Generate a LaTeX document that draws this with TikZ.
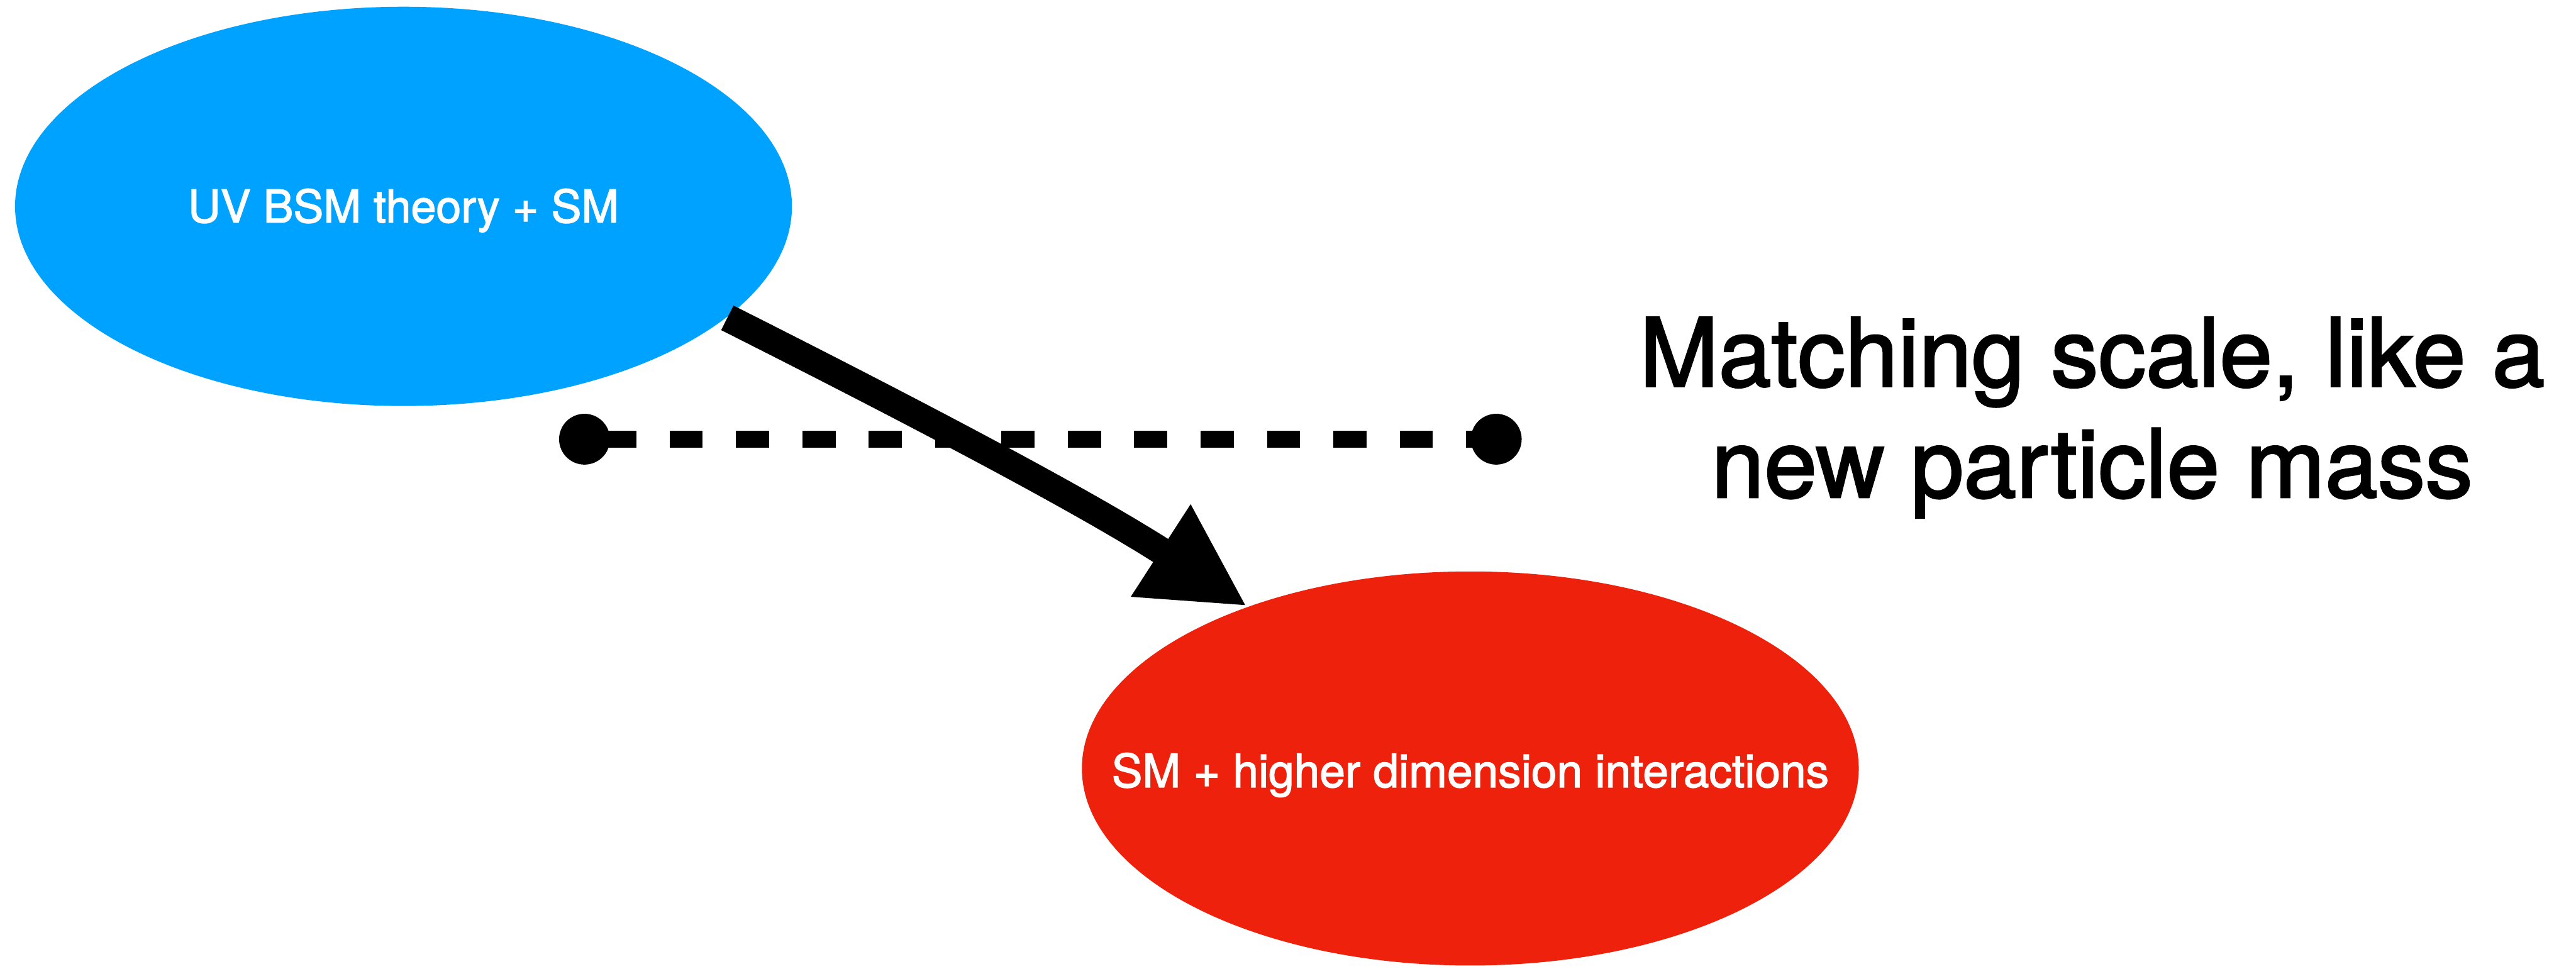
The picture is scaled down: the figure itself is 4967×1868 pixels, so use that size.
\documentclass[tikz,border=0pt]{standalone}
\usepackage{fontspec}
\setmainfont{TeX Gyre Heros}
\newfontfamily\heavyfont[FakeBold=2]{TeX Gyre Heros}
\usetikzlibrary{shapes.geometric,arrows.meta}
\definecolor{kblue}{HTML}{00A2FF}
\definecolor{kred}{HTML}{EE220C}
\begin{document}
\begin{tikzpicture}[x=0.1pt,y=-0.1pt,
  bubble/.style={ellipse, inner sep=0pt, minimum width=149.8pt, minimum height=77pt, draw=none},
  bubbletext/.style={text=white, font=\heavyfont\fontsize{8.7pt}{10pt}\selectfont, inner sep=0pt, anchor=base},
  notetext/.style={text=black, font=\heavyfont\fontsize{18.3pt}{21.4pt}\selectfont, inner sep=0pt, align=center, anchor=base},
  enddot/.style={circle, fill=black, inner sep=0pt, minimum size=9.8pt},
  scaleline/.style={line width=3.2pt, dash pattern=on 6.4pt off 6.4pt, dash phase=9.2pt},
  flow/.style={line width=5.3pt, -{Triangle[length=19.8pt,width=19.7pt]}},
]
\useasboundingbox (0,0) rectangle (4967,1868);
\node[bubble, fill=kblue] (uv) at (778,398) {};
\node[bubble, fill=kred, minimum height=76pt] (eft) at (2835,1482) {};
\node[bubbletext, yshift=-3.1pt] (uvtext) at (uv.center) {UV BSM theory + SM};
\node[bubbletext, yshift=-3.6pt, font=\heavyfont\fontsize{8.85pt}{10pt}\selectfont] (efttext) at (eft.center) {SM + higher dimension interactions};
\node[enddot] (ldot) at (1127,847) {};
\node[enddot] (rdot) at (2885,847) {};
\draw[scaleline] (ldot.center) -- (rdot.center);
\draw[flow] (uv.-19.9) .. controls (1736,781) and (2087,964) .. (eft.144);
\node[notetext] (note) at (4034,959) {Matching scale, like a\\new particle mass};
\end{tikzpicture}
\end{document}
